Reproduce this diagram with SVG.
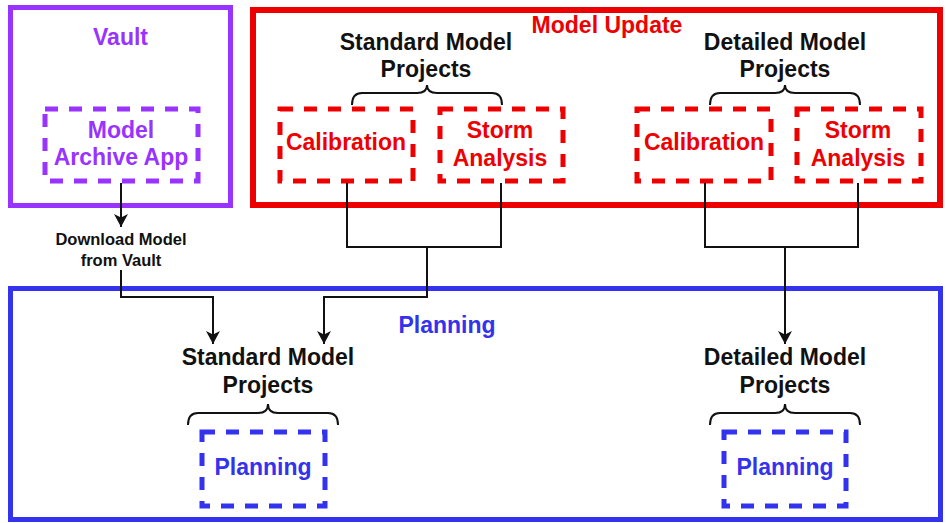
<svg xmlns="http://www.w3.org/2000/svg" width="946" height="523" viewBox="0 0 946 523">
  <style>
    text { font-family: "Liberation Sans", Arial, Helvetica, sans-serif; font-weight: bold; text-anchor: middle; }
    .t { font-size: 23px; }
    .small { font-size: 16.5px; fill: #111; }
    .black { fill: #111; }
    .purple { fill: #9933ff; }
    .red { fill: #ee0000; }
    .blue { fill: #3333ee; }
    .frame { fill: none; }
    .dash { fill: none; stroke-width: 5; stroke-dasharray: 13 11; }
    .brace { fill: none; stroke: #111; stroke-width: 2; }
    .wire { fill: none; stroke: #111; stroke-width: 2; }
  </style>
  <defs>
    <marker id="arrow" viewBox="0 0 12 14" refX="13" refY="7" markerWidth="12" markerHeight="14" markerUnits="userSpaceOnUse" orient="auto">
      <path d="M0,0 L13,7 L0,14 L3.5,7 z" fill="#111"/>
    </marker>
  </defs>
  <rect width="946" height="523" fill="#ffffff"/>

  <!-- Vault -->
  <g id="vault">
    <rect class="frame" x="10.5" y="7.5" width="220" height="198" stroke="#9933ff" stroke-width="5"/>
    <text class="t purple" x="120.5" y="45">Vault</text>
  </g>
  <g id="model-archive-app">
    <rect class="dash" x="45" y="109" width="153" height="72" stroke="#9933ff"/>
    <text class="t purple" x="121" y="138">Model</text>
    <text class="t purple" x="121" y="165">Archive App</text>
  </g>

  <!-- Model Update -->
  <g id="model-update">
    <rect class="frame" x="253" y="10" width="687" height="195" stroke="#ee0000" stroke-width="6"/>
    <text class="t red" x="607" y="33">Model Update</text>
  </g>
  <g id="update-standard-projects">
    <text class="t black" x="426" y="50">Standard Model</text>
    <text class="t black" x="426" y="77">Projects</text>
    <path class="brace" d="M352,105 Q352,93 362,93 L417,93 Q427,93 427,85 Q427,93 437,93 L492,93 Q502,93 502,105"/>
  </g>
  <g id="update-standard-calibration">
    <rect class="dash" x="280" y="109" width="133" height="72" stroke="#ee0000"/>
    <text class="t red" x="346" y="150">Calibration</text>
  </g>
  <g id="update-standard-storm">
    <rect class="dash" x="440" y="109" width="123" height="72" stroke="#ee0000"/>
    <text class="t red" x="500" y="138">Storm</text>
    <text class="t red" x="500" y="166">Analysis</text>
  </g>
  <g id="update-detailed-projects">
    <text class="t black" x="785" y="50">Detailed Model</text>
    <text class="t black" x="785" y="77">Projects</text>
    <path class="brace" d="M710,105 Q710,93 720,93 L775,93 Q785,93 785,85 Q785,93 795,93 L850,93 Q860,93 860,105"/>
  </g>
  <g id="update-detailed-calibration">
    <rect class="dash" x="637" y="109" width="134" height="72" stroke="#ee0000"/>
    <text class="t red" x="704" y="150">Calibration</text>
  </g>
  <g id="update-detailed-storm">
    <rect class="dash" x="797" y="109" width="124" height="72" stroke="#ee0000"/>
    <text class="t red" x="858" y="138">Storm</text>
    <text class="t red" x="858" y="166">Analysis</text>
  </g>

  <!-- Planning -->
  <g id="planning">
    <rect class="frame" x="10.5" y="288.5" width="930" height="231" stroke="#3333ee" stroke-width="5"/>
    <text class="t blue" x="447" y="333">Planning</text>
  </g>
  <g id="planning-standard-projects">
    <text class="t black" x="268" y="365">Standard Model</text>
    <text class="t black" x="268" y="393">Projects</text>
    <path class="brace" d="M188,425 Q188,413 198,413 L258,413 Q268,413 268,404 Q268,413 278,413 L328,413 Q338,413 338,425"/>
  </g>
  <g id="planning-standard-planning">
    <rect class="dash" x="202" y="432" width="123" height="74" stroke="#3333ee"/>
    <text class="t blue" x="263" y="475">Planning</text>
  </g>
  <g id="planning-detailed-projects">
    <text class="t black" x="785" y="365">Detailed Model</text>
    <text class="t black" x="785" y="393">Projects</text>
    <path class="brace" d="M710,425 Q710,413 720,413 L775,413 Q785,413 785,404 Q785,413 795,413 L850,413 Q860,413 860,425"/>
  </g>
  <g id="planning-detailed-planning">
    <rect class="dash" x="724" y="432" width="122" height="74" stroke="#3333ee"/>
    <text class="t blue" x="785" y="475">Planning</text>
  </g>

  <!-- Connectors -->
  <g id="connectors">
    <line class="wire" x1="121" y1="183" x2="121" y2="227" marker-end="url(#arrow)"/>
    <text class="small" x="121" y="245">Download Model</text>
    <text class="small" x="121" y="266">from Vault</text>
    <path class="wire" d="M121,270 L121,297 L213,297 L213,344" marker-end="url(#arrow)"/>

    <path class="wire" d="M347,183 L347,247 L501,247 L501,183"/>
    <path class="wire" d="M427,247 L427,297 L324,297 L324,344" marker-end="url(#arrow)"/>

    <path class="wire" d="M705,183 L705,247 L858,247 L858,183"/>
    <path class="wire" d="M785,247 L785,344" marker-end="url(#arrow)"/>
  </g>
</svg>
